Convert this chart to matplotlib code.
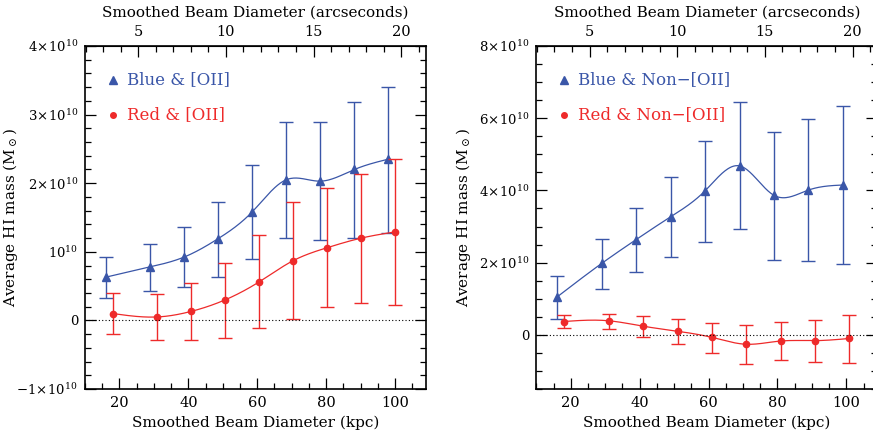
import numpy as np
import matplotlib
matplotlib.use('Agg')
import matplotlib.pyplot as plt
from matplotlib.ticker import FixedLocator, MultipleLocator

plt.rcParams['font.family'] = ['DejaVu Serif']
plt.rcParams['mathtext.fontset'] = 'dejavuserif'

# values in units of 1e10 solar masses
kpc_blue_oii = [16.0, 28.9, 38.6, 48.6, 58.5, 68.4, 78.3, 88.2, 98.0]
m_blue_oii = [0.63, 0.78, 0.92, 1.19, 1.58, 2.05, 2.03, 2.20, 2.35]
hi_blue_oii = [0.92, 1.12, 1.36, 1.73, 2.27, 2.89, 2.89, 3.19, 3.40]
lo_blue_oii = [0.32, 0.43, 0.48, 0.63, 0.89, 1.20, 1.17, 1.20, 1.28]

kpc_red_oii = [18.1, 30.8, 40.7, 50.7, 60.5, 70.4, 80.3, 90.2, 100.0]
m_red_oii = [0.10, 0.05, 0.13, 0.30, 0.56, 0.87, 1.06, 1.20, 1.29]
hi_red_oii = [0.40, 0.38, 0.54, 0.84, 1.24, 1.72, 1.93, 2.13, 2.36]
lo_red_oii = [-0.20, -0.28, -0.29, -0.25, -0.11, 0.02, 0.19, 0.26, 0.23]

kpc_blue_non = [15.9, 29.0, 39.0, 49.0, 58.9, 69.0, 78.9, 89.0, 98.9]
m_blue_non = [1.04, 1.98, 2.64, 3.27, 3.98, 4.68, 3.87, 4.01, 4.15]
hi_blue_non = [1.62, 2.66, 3.52, 4.37, 5.36, 6.44, 5.62, 5.98, 6.34]
lo_blue_non = [0.43, 1.27, 1.74, 2.16, 2.56, 2.92, 2.08, 2.05, 1.96]

kpc_red_non = [18.0, 31.0, 41.0, 51.0, 61.0, 70.9, 81.0, 90.9, 100.9]
m_red_non = [0.37, 0.39, 0.24, 0.10, -0.07, -0.26, -0.17, -0.16, -0.10]
hi_red_non = [0.55, 0.59, 0.51, 0.44, 0.34, 0.28, 0.36, 0.42, 0.56]
lo_red_non = [0.18, 0.15, -0.05, -0.25, -0.50, -0.80, -0.70, -0.75, -0.77]

KPC_PER_ARCSEC = 5.09
BLUE = '#3a56a8'
RED = '#ee2a2a'


def spline(x, y, n=300):
    # natural cubic spline through the points, for the smooth curve
    x = np.asarray(x, float)
    y = np.asarray(y, float)
    h = np.diff(x)
    m = len(x)
    A = np.zeros((m, m))
    r = np.zeros(m)
    A[0, 0] = A[-1, -1] = 1
    for i in range(1, m - 1):
        A[i, i - 1] = h[i - 1]
        A[i, i] = 2 * (h[i - 1] + h[i])
        A[i, i + 1] = h[i]
        r[i] = 3 * ((y[i + 1] - y[i]) / h[i] - (y[i] - y[i - 1]) / h[i - 1])
    c = np.linalg.solve(A, r)
    xs = np.linspace(x[0], x[-1], n)
    idx = np.clip(np.searchsorted(x, xs) - 1, 0, m - 2)
    dx = xs - x[idx]
    b = (y[idx + 1] - y[idx]) / h[idx] - h[idx] * (2 * c[idx] + c[idx + 1]) / 3
    d = (c[idx + 1] - c[idx]) / (3 * h[idx])
    return xs, y[idx] + b * dx + c[idx] * dx ** 2 + d * dx ** 3


def series(ax, x, y, hi, lo, color, marker, ms):
    y = np.array(y)
    yerr = [y - np.array(lo), np.array(hi) - y]
    ax.errorbar(x, y, yerr=yerr, fmt='none', ecolor=color, elinewidth=1.0,
                capsize=5, capthick=1.0)
    xs, ys = spline(x, y)
    ax.plot(xs, ys, color=color, lw=0.9)
    ax.plot(x, y, ls='none', marker=marker, ms=ms, color=color, mec=color)


def panel(ax, ylim, yticks, ylabels, yminor, leg1, leg2, labx):
    ax.set_xlim(10, 109)
    ax.set_ylim(*ylim)
    ax.axhline(0, color='black', ls=(0, (1, 2)), lw=0.8)
    ax.xaxis.set_major_locator(FixedLocator([20, 40, 60, 80, 100]))
    ax.xaxis.set_minor_locator(MultipleLocator(5))
    ax.yaxis.set_major_locator(FixedLocator(yticks))
    ax.set_yticklabels(ylabels)
    ax.yaxis.set_minor_locator(MultipleLocator(yminor))
    ax.tick_params(which='both', direction='in', right=True, top=False,
                   labelsize=10.5, width=0.9)
    ax.tick_params(axis='y', labelsize=9.5)
    ax.tick_params(which='major', length=8, pad=5)
    ax.tick_params(which='minor', length=4)
    for s in ax.spines.values():
        s.set_linewidth(1.2)
    ax.set_xlabel('Smoothed Beam Diameter (kpc)', fontsize=11, labelpad=4)
    ax.set_ylabel(r'Average HI mass (M$_\odot$)', fontsize=11)
    ax.yaxis.set_label_coords(labx, 0.5)

    top = ax.secondary_xaxis('top', functions=(lambda k: k / KPC_PER_ARCSEC,
                                               lambda a: a * KPC_PER_ARCSEC))
    top.xaxis.set_major_locator(FixedLocator([5, 10, 15, 20]))
    top.xaxis.set_minor_locator(MultipleLocator(1))
    top.tick_params(which='both', direction='in', labelsize=10.5, width=0.9)
    top.tick_params(which='major', length=8, pad=5)
    top.tick_params(which='minor', length=4)
    top.set_xlabel('Smoothed Beam Diameter (arcseconds)', fontsize=11, labelpad=6)

    ax.plot([0.081], [0.901], transform=ax.transAxes, marker='^', ms=6,
            color=BLUE, clip_on=False)
    ax.text(0.122, 0.901, leg1, transform=ax.transAxes, color=BLUE,
            fontsize=12, va='center')
    ax.plot([0.081], [0.799], transform=ax.transAxes, marker='o', ms=4,
            color=RED, clip_on=False)
    ax.text(0.122, 0.799, leg2, transform=ax.transAxes, color=RED,
            fontsize=12, va='center')


fig = plt.figure(figsize=(8.73, 4.37), dpi=100)
ax1 = fig.add_axes([85 / 873, 0.1098, 341 / 873, 0.7849])
ax2 = fig.add_axes([536.3 / 873, 0.1098, 341 / 873, 0.7849])

series(ax1, kpc_blue_oii, m_blue_oii, hi_blue_oii, lo_blue_oii, BLUE, '^', 6)
series(ax1, kpc_red_oii, m_red_oii, hi_red_oii, lo_red_oii, RED, 'o', 4.5)
panel(ax1, (-1, 4), [-1, 0, 1, 2, 3, 4],
      [r'$-1\!\times\!10^{10}$', '0', r'$10^{10}$', r'$2\!\times\!10^{10}$',
       r'$3\!\times\!10^{10}$', r'$4\!\times\!10^{10}$'],
      0.2, 'Blue & [OII]', 'Red & [OII]', -0.19)

series(ax2, kpc_blue_non, m_blue_non, hi_blue_non, lo_blue_non, BLUE, '^', 6)
series(ax2, kpc_red_non, m_red_non, hi_red_non, lo_red_non, RED, 'o', 4.5)
panel(ax2, (-1.5, 8), [0, 2, 4, 6, 8],
      ['0', r'$2\!\times\!10^{10}$', r'$4\!\times\!10^{10}$',
       r'$6\!\times\!10^{10}$', r'$8\!\times\!10^{10}$'],
      0.5, 'Blue & Non\u2212[OII]', 'Red & Non\u2212[OII]', -0.185)

fig.savefig('out.png', dpi=100)
